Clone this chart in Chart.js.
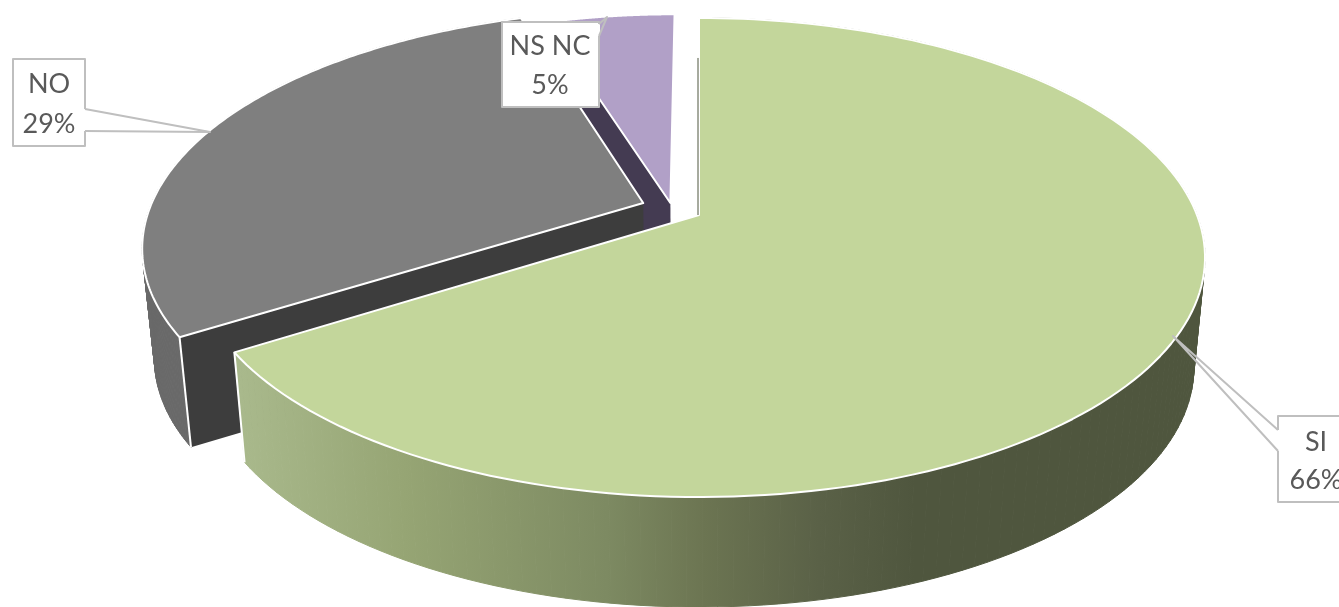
<!DOCTYPE html>
<html>
<head>
<meta charset="utf-8">
<title>SI / NO / NS NC</title>
<script src="https://cdn.jsdelivr.net/npm/chart.js@4"></script>
<style>
  html, body { margin: 0; padding: 0; background: #fff; overflow: hidden; }
  canvas { display: block; }
</style>
</head>
<body>
<canvas id="pie" width="1339" height="607"></canvas>
<script>
'use strict';

const categories = ['SI', 'NO', 'NS NC'];
const values     = [66, 29, 5];

const topColors  = ['#c3d69b', '#7f7f7f', '#b1a0c7'];
const cutColors  = [null, '#3d3d3d', '#443b52'];

// exploded slices: shift of each slice on the plate (plate radius = 1)
const plateShift  = [[0, 0], [-0.113, -0.052], [-0.058, -0.052]];
const plateRadius = [1, 0.996, 0.97];

// perspective of the plate and depth of the pie
const PLATE = { cx: 699, cy: 215, rx: 498, ry: 232, p: 0.1774, depth: 110, shrink: 0.978 };

// callout boxes: rect + wedge (two roots on the box edge and a tip)
const callouts = [
  { box: [1278, 416, 80, 86], wedge: [[1278, 430], [1173, 336], [1278, 451]], textX: 1316, textY: [442, 480] },
  { box: [13, 59, 72, 87],    wedge: [[85, 109], [210, 132], [85, 131]],      textX: 49,   textY: [84, 124] },
  { box: [502, 22, 97, 85],   wedge: [[599, 24], [607, 17], [599, 36]],       textX: 550,  textY: [46, 85] },
];

/* ── Projection ── */
function project(u, v) {
  const d = 1 - PLATE.p * v;
  return [PLATE.cx + PLATE.rx * u / d, PLATE.cy + PLATE.ry * v / d];
}

function lower(pt) {
  return [PLATE.cx + (pt[0] - PLATE.cx) * PLATE.shrink, pt[1] + PLATE.depth];
}

function tracePoints(ctx, pts) {
  ctx.beginPath();
  pts.forEach((p, i) => (i ? ctx.lineTo(p[0], p[1]) : ctx.moveTo(p[0], p[1])));
  ctx.closePath();
}

function wallPaint(ctx, i) {
  if (i === 1) return '#696969';
  if (i !== 0) return null; // the small slice shows no outer wall
  const g = ctx.createLinearGradient(240, 0, 1205, 0);
  g.addColorStop(0, '#a9b98c');
  g.addColorStop(0.17, '#96a574');
  g.addColorStop(0.38, '#7d8a62');
  g.addColorStop(0.48, '#6c7552');
  g.addColorStop(0.6, '#5a6147');
  g.addColorStop(0.7, '#4f563e');
  g.addColorStop(1, '#4f563e');
  return g;
}

/* ── 3D arc element ── */
class Arc3D extends Chart.ArcElement {
  draw(ctx) {
    const { startAngle, endAngle } = this.getProps(['startAngle', 'endAngle']);
    const i = this.$context.index;
    const [su, sv] = plateShift[i];
    const r = plateRadius[i];

    const rim = [];
    const steps = 160;
    for (let k = 0; k <= steps; k++) {
      const a = startAngle + (endAngle - startAngle) * k / steps;
      rim.push(project(su + r * Math.cos(a), sv + r * Math.sin(a)));
    }
    const apex = project(su, sv);
    const first = rim[0];
    const last = rim[steps];

    ctx.save();

    // outer wall, swept quad by quad so the silhouette tangents are filled
    const wallFill = wallPaint(ctx, i);
    if (wallFill) {
      ctx.fillStyle = wallFill;
      ctx.strokeStyle = wallFill;
      ctx.lineWidth = 1;
      for (let k = 0; k < steps; k++) {
        tracePoints(ctx, [rim[k], rim[k + 1], lower(rim[k + 1]), lower(rim[k])]);
        ctx.fill();
        ctx.stroke();
      }
    }

    // cut face that looks at the viewer
    if (cutColors[i]) {
      ctx.fillStyle = cutColors[i];
      tracePoints(ctx, [apex, first, lower(first), lower(apex)]);
      ctx.fill();
    }

    // top of the slice
    ctx.fillStyle = topColors[i];
    ctx.strokeStyle = '#fff';
    ctx.lineWidth = 2;
    ctx.lineJoin = 'round';
    tracePoints(ctx, [apex].concat(rim));
    ctx.fill();
    ctx.stroke();

    // white corner between wall and cut face on the leading edge
    const corner = i === 0 ? last : first;
    if (i < 2) {
      ctx.beginPath();
      ctx.moveTo(corner[0], corner[1]);
      ctx.lineTo(...lower(corner));
      ctx.stroke();
    }

    // thin shadow on the first edge of the big slice
    if (i === 0) {
      ctx.strokeStyle = '#4f563e';
      ctx.lineWidth = 1;
      ctx.beginPath();
      ctx.moveTo(apex[0] - 1, apex[1]);
      ctx.lineTo(first[0] - 1, first[1] + 40);
      ctx.stroke();
    }

    ctx.restore();
  }
}
Arc3D.id = 'arc3d';

/* ── Controller: back slices first ── */
class Pie3D extends Chart.PieController {
  draw() {
    const ctx = this.chart.ctx;
    const arcs = this._cachedMeta.data;
    for (let i = arcs.length - 1; i >= 0; i--) arcs[i].draw(ctx);
  }
}
Pie3D.id = 'pie3d';
Pie3D.defaults = { dataElementType: 'arc3d' };

Chart.register(Arc3D, Pie3D);

/* ── Callout labels ── */
const calloutLabels = {
  id: 'calloutLabels',
  afterDatasetsDraw(chart) {
    const ctx = chart.ctx;
    ctx.save();
    ctx.font = '27px Lato';
    ctx.textAlign = 'center';
    ctx.textBaseline = 'middle';
    ctx.lineJoin = 'round';

    callouts.forEach((c, i) => {
      const [x, y, w, h] = c.box;
      const [a, tip, b] = c.wedge;

      ctx.fillStyle = '#fff';
      ctx.fillRect(x, y, w, h);

      ctx.strokeStyle = '#bfbfbf';
      ctx.lineWidth = 2;
      ctx.strokeRect(x, y, w, h);

      // open the box edge where the wedge leaves it
      ctx.strokeStyle = '#fff';
      ctx.beginPath();
      ctx.moveTo(a[0], a[1]);
      ctx.lineTo(b[0], b[1]);
      ctx.stroke();

      ctx.strokeStyle = '#bfbfbf';
      ctx.beginPath();
      ctx.moveTo(a[0], a[1]);
      ctx.lineTo(tip[0], tip[1]);
      ctx.lineTo(b[0], b[1]);
      ctx.stroke();

      ctx.fillStyle = '#595959';
      ctx.fillText(categories[i], c.textX, c.textY[0]);
      ctx.fillText(values[i] + '%', c.textX, c.textY[1]);
    });
    ctx.restore();
  },
};

new Chart(document.getElementById('pie'), {
  type: 'pie3d',
  data: {
    labels: categories,
    datasets: [{ data: values, backgroundColor: topColors }],
  },
  options: {
    responsive: false,
    animation: false,
    plugins: {
      legend: { display: false },
      tooltip: { enabled: false },
    },
  },
  plugins: [calloutLabels],
});
</script>
</body>
</html>
